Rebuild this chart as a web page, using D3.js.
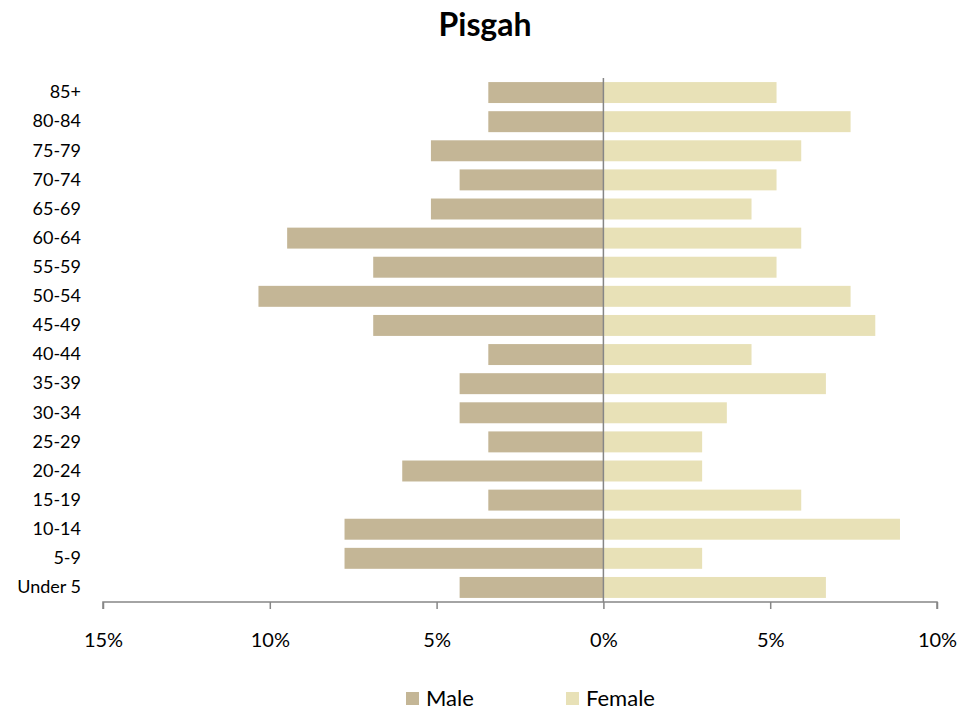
<!DOCTYPE html>
<html>
<head>
<meta charset="utf-8">
<script src="https://cdn.jsdelivr.net/npm/d3@7"></script>
<style>
  html, body { margin: 0; padding: 0; background: #fff; }
  svg text { font-family: Lato, "Open Sans", sans-serif; fill: #000; }
</style>
</head>
<body>
<svg id="chart" width="979" height="713"></svg>
<script>
const categories = ["85+","80-84","75-79","70-74","65-69","60-64","55-59","50-54","45-49","40-44","35-39","30-34","25-29","20-24","15-19","10-14","5-9","Under 5"];
const maleValues = [3.45,3.45,5.17,4.31,5.17,9.48,6.90,10.34,6.90,3.45,4.31,4.31,3.45,6.03,3.45,7.76,7.76,4.31];
const femaleValues = [5.19,7.41,5.93,5.19,4.44,5.93,5.19,7.41,8.15,4.44,6.67,3.70,2.96,2.96,5.93,8.89,2.96,6.67];
const tickValues = [-15,-10,-5,0,5,10];
const seriesNames = ["Male","Female"];
const colors = {Male: "#C4B696", Female: "#E8E1B7"};

(function () {
const svg = d3.select("#chart");
const pLeft = 103, pRight = 937, pTop = 78, pBottom = 602;

const x = d3.scaleLinear().domain([-15, 10]).range([pLeft, pRight]);
const y = d3.scaleBand().domain(categories).range([pTop, pBottom]).paddingInner(0.28).paddingOuter(0.14);

// title
svg.append("text").attr("x", 485).attr("y", 36).attr("text-anchor", "middle")
  .style("font-size", "32px").style("font-weight", "bold").text("Pisgah");

// bars
svg.append("g").selectAll("rect").data(categories).join("rect")
  .attr("x", (d,i) => x(-maleValues[i])).attr("y", d => y(d))
  .attr("width", (d,i) => x(0) - x(-maleValues[i])).attr("height", y.bandwidth())
  .attr("fill", colors.Male);
svg.append("g").selectAll("rect").data(categories).join("rect")
  .attr("x", x(0)).attr("y", d => y(d))
  .attr("width", (d,i) => x(femaleValues[i]) - x(0)).attr("height", y.bandwidth())
  .attr("fill", colors.Female);

// zero line
svg.append("line").attr("x1", x(0)).attr("x2", x(0)).attr("y1", pTop).attr("y2", pBottom)
  .attr("stroke", "#868686").attr("stroke-width", 1.5);

// x axis
const xAxis = d3.axisBottom(x).tickValues(tickValues).tickSize(7).tickPadding(24)
  .tickFormat(d => Math.abs(d) + "%");
const gx = svg.append("g").attr("transform", `translate(0,${pBottom})`).call(xAxis);
gx.select(".domain").attr("stroke", "#868686").attr("stroke-width", 1.5).attr("d", `M${pLeft},7V0H${pRight}V7`);
gx.selectAll(".tick line").attr("stroke", "#868686").attr("stroke-width", 1.5);
gx.selectAll(".tick text").style("font-size", "20px").style("font-family", "Lato, sans-serif").attr("fill", "#000");

// y labels
const yAxis = d3.axisLeft(y).tickSize(0).tickPadding(0);
const gy = svg.append("g").attr("transform", `translate(81,0)`).call(yAxis);
gy.select(".domain").remove();
gy.selectAll(".tick text").style("font-size", "18px").style("font-family", "Lato, sans-serif").attr("fill", "#000");

// legend
const legendX = [406, 566];
const lg = svg.append("g");
seriesNames.forEach((s, i) => {
  lg.append("rect").attr("x", legendX[i]).attr("y", 692).attr("width", 13).attr("height", 13).attr("fill", colors[s]);
  lg.append("text").attr("x", legendX[i] + 20).attr("y", 706).style("font-size", "22px").text(s);
});
})();
</script>
</body>
</html>
